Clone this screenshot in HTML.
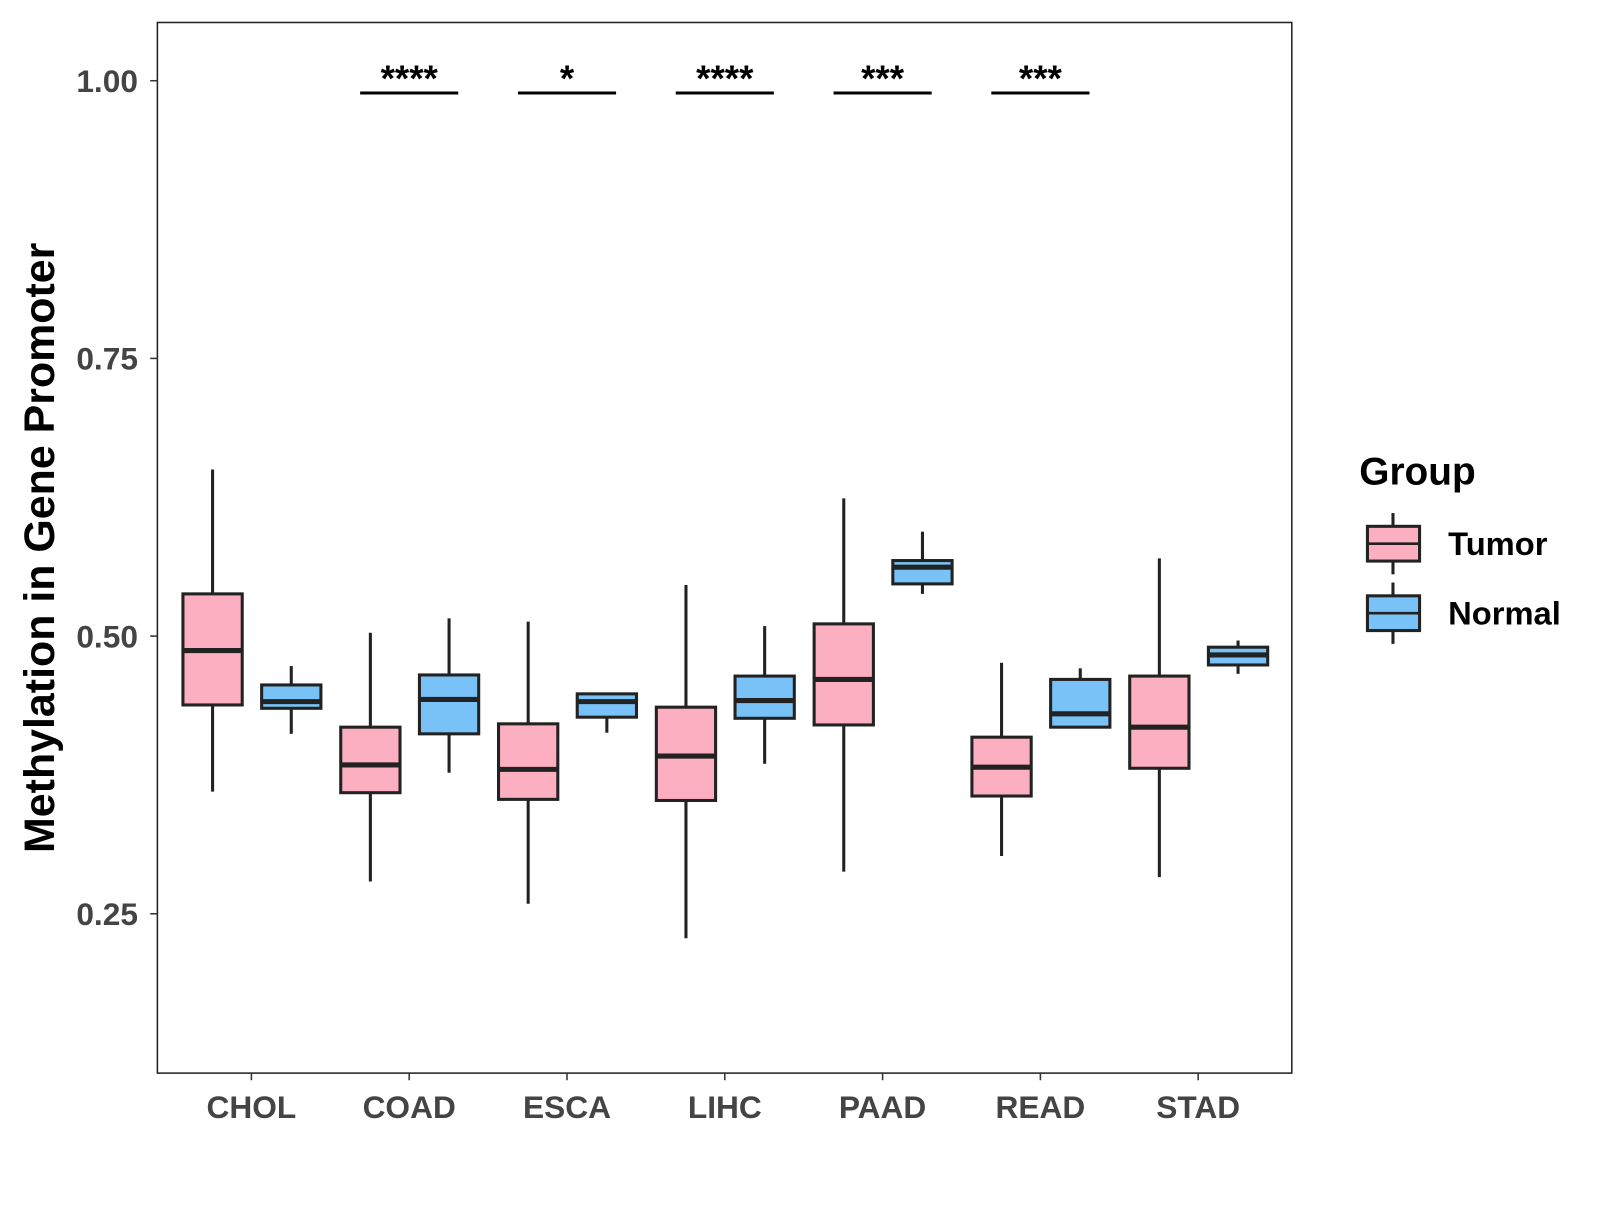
<!DOCTYPE html>
<html><head><meta charset="utf-8"><style>
html,body{margin:0;padding:0;background:#fff;}
svg text{font-family:"Liberation Sans",Arial,sans-serif;}
</style></head><body>
<svg id="chart" width="1600" height="1200" viewBox="0 0 1600 1200" xmlns="http://www.w3.org/2000/svg">
<rect x="0" y="0" width="1600" height="1200" fill="#fff"/>
<g id="plot" transform="scale(1.022)"></g>
</svg>
<script>
const categories = ["CHOL","COAD","ESCA","LIHC","PAAD","READ","STAD"];
// [min, q1, median, q3, max]
const tumorStats = [
 [0.360,0.438,0.487,0.538,0.650],
 [0.279,0.359,0.384,0.418,0.503],
 [0.259,0.353,0.380,0.421,0.513],
 [0.228,0.352,0.392,0.436,0.546],
 [0.288,0.420,0.461,0.511,0.624],
 [0.302,0.356,0.382,0.409,0.476],
 [0.283,0.381,0.418,0.464,0.570]
];
const normalStats = [
 [0.412,0.435,0.441,0.456,0.473],
 [0.377,0.412,0.443,0.465,0.516],
 [0.413,0.427,0.441,0.448,0.449],
 [0.385,0.426,0.442,0.464,0.509],
 [0.538,0.547,0.562,0.568,0.594],
 [0.418,0.418,0.430,0.461,0.471],
 [0.466,0.474,0.483,0.490,0.496]
];
const sigLabels = ["","****","*","****","***","***",""];
const yTicks = [0.25,0.50,0.75,1.00];
const yTickLabels = ["0.25","0.50","0.75","1.00"];

const NS="http://www.w3.org/2000/svg";
const g=document.getElementById('plot');
const P={l:154,r:1264,t:22,b:1050};
function yScale(v){return 79+(1-v)*1086.8;}
function xScale(i){return 246+i*154.4;}
function mk(tag,attrs,parent){const e=document.createElementNS(NS,tag);for(const k in attrs)e.setAttribute(k,attrs[k]);(parent||g).appendChild(e);return e;}

const panel=mk('rect',{x:P.l,y:P.t,width:P.r-P.l,height:P.b-P.t,fill:'none',stroke:'#222','stroke-width':1.5});



yTicks.forEach((v,i)=>{
  const y=yScale(v);
  const t=mk('line',{x1:P.l-7,x2:P.l,y1:y,y2:y,stroke:'#333','stroke-width':1.5});
  
  
  const l=mk('text',{x:P.l-19,y:y+11,'text-anchor':'end','font-size':31,'font-weight':'bold',fill:'#444'});
  l.textContent=yTickLabels[i];
  
  
});
categories.forEach((c,i)=>{
  const x=xScale(i);
  const t=mk('line',{x1:x,x2:x,y1:P.b,y2:P.b+7,stroke:'#333','stroke-width':1.5});
  
  
  const l=mk('text',{x:x,y:P.b+44,'text-anchor':'middle','font-size':31,'font-weight':'bold',fill:'#444'});
  l.textContent=c;
  
  
});

function drawBox(s,cx,fill,name){
  const w=58;
  const grp=mk('g',{});
  
  
  mk('line',{x1:cx,x2:cx,y1:yScale(s[4]),y2:yScale(s[3]),stroke:'#222','stroke-width':3},grp);
  mk('line',{x1:cx,x2:cx,y1:yScale(s[1]),y2:yScale(s[0]),stroke:'#222','stroke-width':3},grp);
  mk('rect',{x:cx-w/2,y:yScale(s[3]),width:w,height:Math.max(1,yScale(s[1])-yScale(s[3])),fill:fill,stroke:'#222','stroke-width':3},grp);
  mk('line',{x1:cx-w/2,x2:cx+w/2,y1:yScale(s[2]),y2:yScale(s[2]),stroke:'#222','stroke-width':5},grp);
}
categories.forEach((c,i)=>{
  drawBox(tumorStats[i],xScale(i)-38,'#FBAFC1','box-tumor-'+c.toLowerCase());
  drawBox(normalStats[i],xScale(i)+39,'#78C2F7','box-normal-'+c.toLowerCase());
  if(sigLabels[i]){
    const x=xScale(i);
    const b=mk('line',{x1:x-48,x2:x+48,y1:91,y2:91,stroke:'#000','stroke-width':3});
    
    
    const t=mk('text',{x:x,y:89,'text-anchor':'middle','font-size':36,'font-weight':'bold',fill:'#000'});
    t.textContent=sigLabels[i];
    
    
  }
});

const yt=mk('text',{x:0,y:0,'text-anchor':'middle','font-size':42,'font-weight':'bold',fill:'#000',transform:'translate(53,536) rotate(-90)'});
yt.textContent='Methylation in Gene Promoter';



const lg=mk('g',{});


const lt=mk('text',{x:1330,y:474,'font-size':38,'font-weight':'bold',fill:'#000'},lg);
lt.textContent='Group';


[['Tumor','#FBAFC1',532],['Normal','#78C2F7',600]].forEach(([n,f,cy])=>{
  const e=mk('g',{},lg);
  
  
  mk('line',{x1:1363,x2:1363,y1:cy-30,y2:cy+30,stroke:'#222','stroke-width':3},e);
  mk('rect',{x:1338,y:cy-17,width:51,height:34,fill:f,stroke:'#222','stroke-width':3},e);
  mk('line',{x1:1338,x2:1389,y1:cy,y2:cy,stroke:'#222','stroke-width':2.5},e);
  const t=mk('text',{x:1417,y:cy+11,'font-size':32,'font-weight':'bold',fill:'#000'},e);
  t.textContent=n;
});
</script>
</body></html>
